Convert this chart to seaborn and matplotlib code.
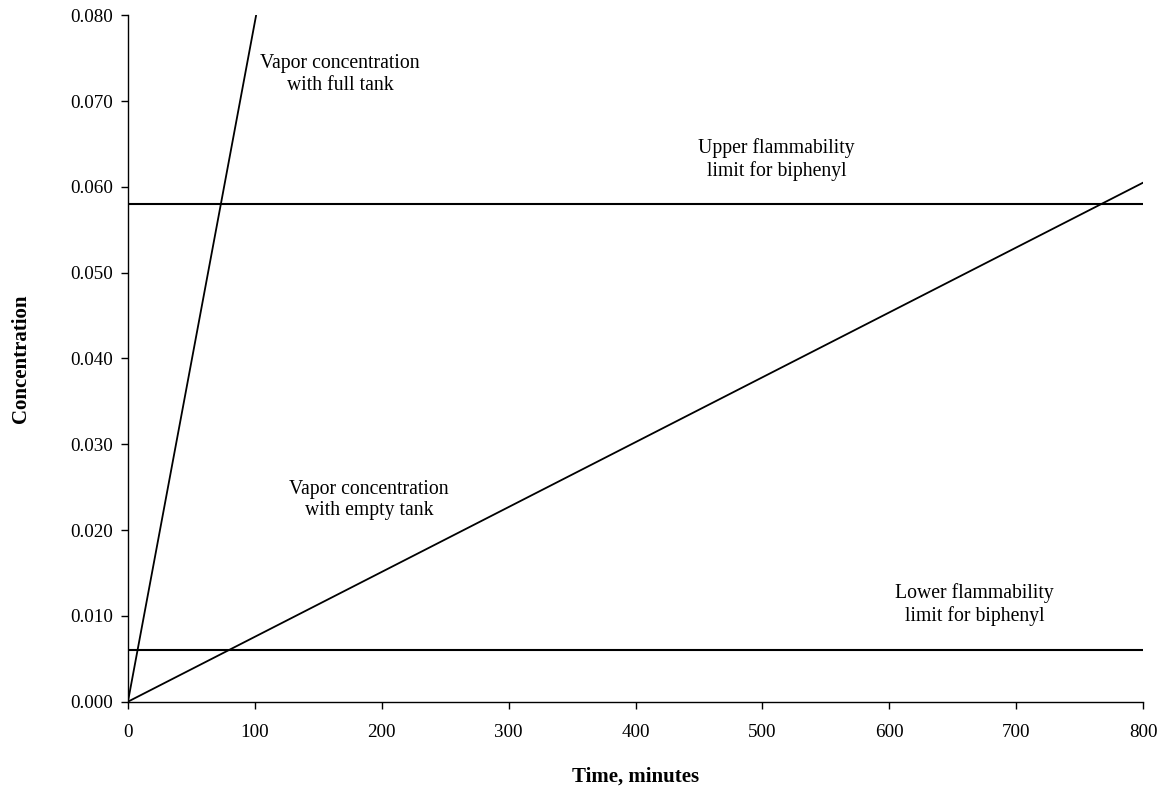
import matplotlib
matplotlib.use("Agg")
import matplotlib.pyplot as plt
import seaborn as sns
import pandas as pd
from matplotlib.ticker import FormatStrFormatter

# ---- data ----
full_tank_time = [0, 101]
full_tank_conc = [0.0, 0.080]
empty_tank_time = [0, 800]
empty_tank_conc = [0.0, 0.0605]
limit_time = [0, 800]
upper_limit = [0.058, 0.058]
lower_limit = [0.006, 0.006]

x_ticks = [0, 100, 200, 300, 400, 500, 600, 700, 800]
y_ticks = [0.000, 0.010, 0.020, 0.030, 0.040, 0.050, 0.060, 0.070, 0.080]

labels = ["Vapor concentration\nwith full tank",
          "Upper flammability\nlimit for biphenyl",
          "Lower flammability\nlimit for biphenyl",
          "Vapor concentration\nwith empty tank"]
label_x = [167, 511, 667, 190]
label_y = [0.0731, 0.0632, 0.01136, 0.0235]

sns.set_theme(style="white")
plt.rcParams['font.family'] = ['Liberation Serif', 'DejaVu Serif']

fig = plt.figure(figsize=(11.63, 7.87), dpi=100)
ax = fig.add_axes([0.110, 0.1084, 0.873, 0.8722])

df_full = pd.DataFrame({"t": full_tank_time, "c": full_tank_conc})
df_empty = pd.DataFrame({"t": empty_tank_time, "c": empty_tank_conc})
df_up = pd.DataFrame({"t": limit_time, "c": upper_limit})
df_low = pd.DataFrame({"t": limit_time, "c": lower_limit})

for d, lw in [(df_full, 1.3), (df_empty, 1.3), (df_up, 1.5), (df_low, 1.5)]:
    sns.lineplot(data=d, x="t", y="c", ax=ax, color="black", linewidth=lw)

for txt, x, y in zip(labels, label_x, label_y):
    ax.text(x, y, txt, ha="center", va="center", multialignment="center",
            fontsize=14.2, color="black", linespacing=1.2)

ax.set_xlim(0, 800)
ax.set_ylim(0, 0.080)
ax.set_xticks(x_ticks)
ax.set_yticks(y_ticks)
ax.yaxis.set_major_formatter(FormatStrFormatter('%.3f'))
ax.tick_params(axis='both', direction='out', length=5, width=1, colors='black',
               labelsize=13.7, left=True, bottom=True)
ax.tick_params(axis='x', pad=11)
ax.tick_params(axis='y', pad=6)

for s in ['top', 'right']:
    ax.spines[s].set_visible(False)
for s in ['left', 'bottom']:
    ax.spines[s].set_color('black')
    ax.spines[s].set_linewidth(1.0)

ax.set_xlabel("Time, minutes", fontsize=15, fontweight="bold", color="black")
ax.set_ylabel("Concentration", fontsize=15, fontweight="bold", color="black")
ax.xaxis.set_label_coords(0.5, -0.095)
ax.yaxis.set_label_coords(-0.0955, 0.5)
ax.xaxis.label.set_va('top')
ax.grid(False)

fig.savefig("out.png", dpi=100, facecolor="white")
